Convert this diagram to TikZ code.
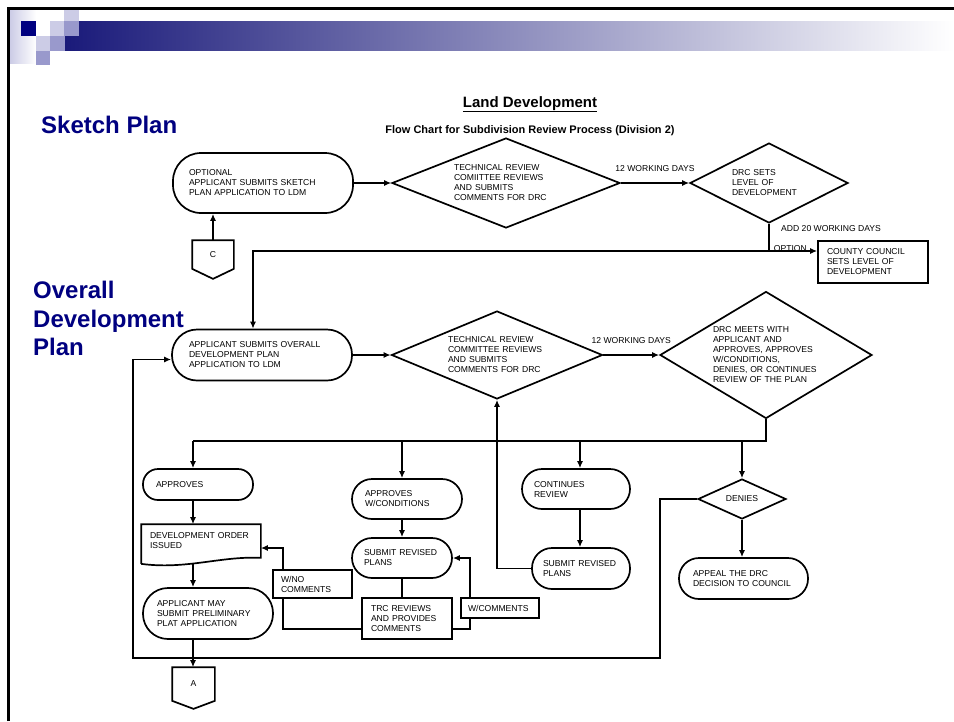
\documentclass[tikz,border=0pt]{standalone}
\usepackage{fontspec}
\setmainfont{Liberation Sans}
\usetikzlibrary{shapes.geometric,arrows.meta,calc}
\definecolor{navy}{RGB}{0,0,128}
\definecolor{lav}{RGB}{204,204,230}
\definecolor{lavm}{RGB}{153,153,204}
\definecolor{barL}{RGB}{26,26,122}
\definecolor{barM}{RGB}{160,160,190}
\tikzset{
  base/.style={draw, line width=1.7pt, font=\fontsize{8.6}{10}\selectfont, align=left, inner ysep=0pt},
  stad/.style={base, rectangle, rounded corners=#1},
  box/.style={base, rectangle},
  dia/.style={base, diamond, inner sep=0pt},
  ln/.style={line width=1.7pt},
  arr/.style={ln, -{Latex[length=7pt,width=6pt]}},
  lbl/.style={font=\fontsize{8.6}{10}\selectfont, inner sep=0pt},
  side/.style={text=navy, font=\bfseries\fontsize{24}{28.5}\selectfont, inner sep=0pt, align=left}
}
\begin{document}
\begin{tikzpicture}[x=1pt,y=-1pt]
\useasboundingbox (0,0) rectangle (954,721);
\fill[white] (0,0) rectangle (954,721);
% slide decoration
\shade[left color=lav, right color=white] (10,10) rectangle (36,63);
\shade[left color=barL, middle color=barM, right color=white] (65,21) rectangle (954,50.5);
\fill[lav] (64,10) rectangle (79,21);
\fill[navy] (21,21) rectangle (36,36);
\fill[lav] (50,21) rectangle (64,36);
\fill[lavm] (64,21) rectangle (79,36);
\fill[lav] (36,36) rectangle (50,50.5);
\fill[lavm] (50,36) rectangle (65,50.5);
\fill[lavm] (36,50.5) rectangle (50,65);
\draw[line width=3pt] (8.5,721) -- (8.5,8.5) -- (954,8.5);

% titles
\node[font=\bfseries\fontsize{15}{18}\selectfont, anchor=base, inner sep=0pt] (title) at (530,107) {\underline{Land Development}};
\node[font=\bfseries\fontsize{11}{13}\selectfont, anchor=base, inner sep=0pt] (sub) at (530,133) {Flow Chart for Subdivision Review Process (Division 2)};
\node[side, anchor=base west] (skl) at (41,133) {Sketch Plan};
\node[side, anchor=north west] (odl) at (33,281) {Overall\\Development\\Plan};

% sketch plan row
\node[stad=28pt, minimum height=60pt, text width=148pt, inner xsep=16pt] (sk) at (263,183) {OPTIONAL\\APPLICANT SUBMITS SKETCH\\PLAN APPLICATION TO LDM};
\node[dia, minimum width=228pt, minimum height=90pt, shape aspect=2.53, text width=104pt] (trc1) at (506,183) {TECHNICAL REVIEW\\COMIITTEE REVIEWS\\AND SUBMITS\\COMMENTS FOR DRC};
\node[dia, minimum width=158pt, minimum height=80pt, shape aspect=1.975, text width=74pt] (drc1) at (769,183) {DRC SETS\\LEVEL OF\\DEVELOPMENT};
\node[box, minimum height=42pt, text width=92pt, inner xsep=9pt] (cc) at (873,262) {COUNTY COUNCIL\\SETS LEVEL OF\\DEVELOPMENT};
\node[base, draw=none, align=center, minimum width=40pt, minimum height=27pt, inner sep=0pt] (conC) at (213,254.5) {C};
\draw[ln] (conC.north west) -- (conC.north east) -- (conC.south east) -- ($(conC.south)+(0,10)$) -- (conC.south west) -- cycle;

% overall development row
\node[stad=25pt, minimum height=51pt, text width=146pt, inner xsep=17pt] (od) at (262,355) {APPLICANT SUBMITS OVERALL\\DEVELOPMENT PLAN\\APPLICATION TO LDM};
\node[dia, minimum width=211pt, minimum height=88pt, shape aspect=2.4, text width=98pt] (trc2) at (497,355) {TECHNICAL REVIEW\\COMMITTEE REVIEWS\\AND SUBMITS\\COMMENTS FOR DRC};
\node[dia, minimum width=212pt, minimum height=127pt, shape aspect=1.67, text width=106pt] (drc2) at (766,355) {DRC MEETS WITH\\APPLICANT AND\\APPROVES, APPROVES\\W/CONDITIONS,\\DENIES, OR CONTINUES\\REVIEW OF THE PLAN};

% outcomes
\node[stad=15pt, minimum height=31pt, text width=84pt, inner xsep=13pt] (ap) at (198,484.5) {APPROVES};
\node[base, draw=none, minimum height=32pt, text width=102pt, inner xsep=8pt] (doc) at (201,541) {DEVELOPMENT ORDER\\ISSUED};
\draw[ln] ($(doc.south west)+(0,6)$) -- (doc.north west) -- (doc.north east) -- (doc.south east)
  .. controls ($(doc.south east)+(-40,-2)$) and ($(doc.south west)+(45,12)$) .. ($(doc.south west)+(0,6)$);
\node[stad=25pt, minimum height=51pt, text width=102pt, inner xsep=14pt] (am) at (208,613.5) {APPLICANT MAY\\SUBMIT PRELIMINARY\\PLAT APPLICATION};
\node[base, draw=none, align=center, minimum width=41pt, minimum height=32pt, inner sep=0pt] (conA) at (193.5,684) {A};
\draw[ln] (conA.north west) -- (conA.north east) -- (conA.south east) -- ($(conA.south)+(0,8)$) -- (conA.south west) -- cycle;

\node[stad=20pt, minimum height=40pt, text width=84pt, inner xsep=13pt] (awc) at (407,499) {APPROVES\\W/CONDITIONS};
\node[stad=20pt, minimum height=40pt, text width=76pt, inner xsep=12pt] (srp1) at (402,558) {SUBMIT REVISED\\PLANS};
\node[box, minimum height=28pt, text width=63pt, inner xsep=8pt] (wno) at (312.5,584) {W/NO\\COMMENTS};
\node[box, minimum height=41pt, text width=72pt, inner xsep=9pt] (trcb) at (407,618.5) {TRC REVIEWS\\AND PROVIDES\\COMMENTS};
\node[box, minimum height=20pt, text width=64pt, inner xsep=7pt] (wc) at (500,608) {W/COMMENTS};

\node[stad=20pt, minimum height=40pt, text width=84pt, inner xsep=12pt] (cr) at (576,489) {CONTINUES\\REVIEW};
\node[stad=20pt, minimum height=41pt, text width=76pt, inner xsep=11pt] (srp2) at (581,568.5) {SUBMIT REVISED\\PLANS};
\node[dia, align=center, minimum width=88pt, minimum height=40pt, shape aspect=2.2] (den) at (742,499) {DENIES};
\node[stad=20pt, minimum height=41pt, text width=101pt, inner xsep=14pt] (ap2) at (743.5,578.5) {APPEAL THE DRC\\DECISION TO COUNCIL};

% coordinates
\coordinate (j1) at (769,251);
\coordinate (bA) at (193,441);
\coordinate (bB) at (402,441);
\coordinate (bD) at (580,441);
\coordinate (bE) at (742,441);
\coordinate (cW) at (283,629);
\coordinate (cC) at (470,629);
\coordinate (lB) at (660,658);
\coordinate (lC) at (133,658);

% connectors: sketch row
\draw[arr] (sk.east) -- (trc1.west);
\draw[arr] (trc1.east) -- node[lbl, above=11pt] (wd1) {12 WORKING DAYS} (drc1.west);
\draw[ln] (drc1.south) -- (j1);
\node[lbl, anchor=west] (add20) at (781,229) {ADD 20 WORKING DAYS};
\draw[arr] (j1) -- node[lbl, pos=0, anchor=south west, xshift=4pt, yshift=-1.5pt] (opt) {OPTION} (j1 -| cc.west);
\draw[arr] (j1) -| ([xshift=-9pt]od.north);
\draw[arr] (conC.north) -- (conC.north |- sk.south);

% connectors: overall row
\draw[arr] (od.east) -- (trc2.west);
\draw[arr] (trc2.east) -- node[lbl, above=11pt] (wd2) {12 WORKING DAYS} (drc2.west);
\draw[ln] (drc2.south) |- (bA);
\draw[arr] (bA) -- (bA |- ap.north);
\draw[arr] (bB) -- (bB |- awc.north);
\draw[arr] (bD) -- (bD |- cr.north);
\draw[arr] (bE) -- (den.north);

% approves column
\draw[arr] (bA |- ap.south) -- (bA |- doc.north);
\draw[arr] ($(bA |- doc.south)+(0,6)$) -- (bA |- am.north);
\draw[arr] (bA |- am.south) -- (bA |- conA.north);

% approves with conditions column
\draw[arr] (bB |- awc.south) -- (bB |- srp1.north);
\draw[ln] (srp1.south) -- (srp1.south |- trcb.north);
\draw[ln] ($(trcb.west)+(0,10.5)$) -- (cW) -- (cW |- wno.south);
\draw[arr] (cW |- wno.north) |- ($(doc.east)+(0,7)$);
\draw[ln] ($(trcb.east)+(0,10.5)$) -- (cC) -- (cC |- wc.south);
\draw[arr] (cC |- wc.north) |- (srp1.east);

% continues review column
\draw[arr] (bD |- cr.south) -- (bD |- srp2.north);
\draw[arr] (srp2.west) -| (trc2.south);

% denies column
\draw[arr] (den.south) -- (den.south |- ap2.north);
\draw[arr] (den.west) -| (lB) -- (lC) |- ($(od.west)+(0,4.5)$);
\end{tikzpicture}
\end{document}
